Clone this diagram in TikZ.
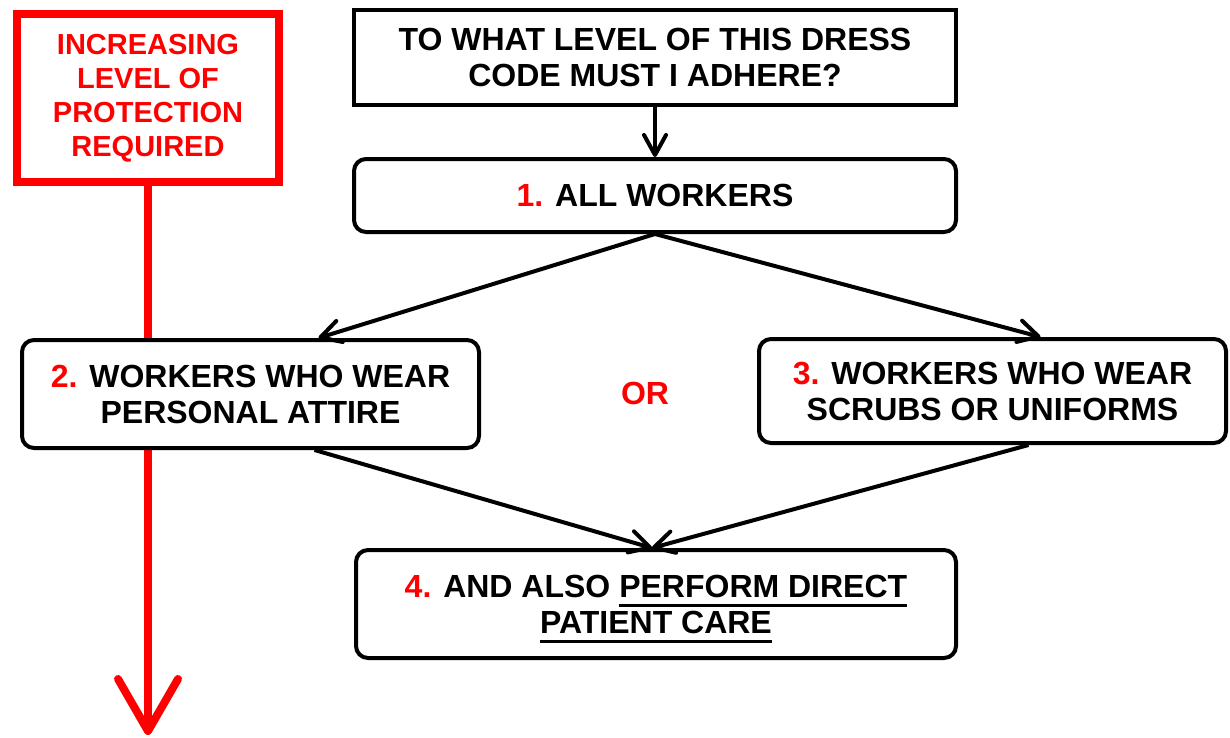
\documentclass[tikz,border=0pt]{standalone}
\usepackage{fontspec}
\setmainfont{Liberation Sans}
\usetikzlibrary{arrows.meta,calc}
\definecolor{alert}{HTML}{FF0000}
\definecolor{ink}{HTML}{000000}
\newcommand{\stepno}[1]{\textcolor{alert}{#1}}
\newcommand{\thickul}[1]{\setbox0\hbox{#1}\rlap{\smash{\rule[-5pt]{\wd0}{1.5pt}}}\box0}
\tikzset{
  basebox/.style={draw=ink,line width=2pt,fill=white,align=center,inner sep=0pt,text=ink,font=\fontsize{16}{18}\selectfont\bfseries},
  roundbox/.style={basebox,rounded corners=6pt},
  alertbox/.style={basebox,draw=alert,line width=4pt,text=alert,font=\fontsize{14.5}{17}\selectfont\bfseries},
  arrow/.style={-{Straight Barb[length=10pt,width=11pt,round]},line width=2pt,draw=ink},
  alertarrow/.style={-{Straight Barb[length=26pt,width=30pt,round]},line width=4pt,draw=alert}
}
\begin{document}
\begin{tikzpicture}[x=0.5pt,y=-0.5pt]
    \useasboundingbox (0,0) rectangle (1230,738);
    % protection scale on the left
    \coordinate (protend) at (148,735);
    \node[alertbox,minimum width=131pt,minimum height=84pt] (prot) at (148,98) {INCREASING\\LEVEL OF\\PROTECTION\\REQUIRED};
    \draw[alertarrow] (prot.south) -- (protend);
    % flow
    \node[basebox,minimum width=301pt,minimum height=47.5pt] (question) at (655,57.5) {TO WHAT LEVEL OF THIS DRESS\\CODE MUST I ADHERE?};
    \node[roundbox,minimum width=301pt,minimum height=36.5pt] (all) at (655,195.5) {\stepno{1.} ALL WORKERS};
    \node[roundbox,minimum width=228.5pt,minimum height=54pt] (attire) at (250.5,394) {\stepno{2.} WORKERS WHO WEAR\\PERSONAL ATTIRE};
    \node[roundbox,minimum width=233.5pt,minimum height=52pt] (scrubs) at (992.5,391) {\stepno{3.} WORKERS WHO WEAR\\SCRUBS OR UNIFORMS};
    \node[roundbox,minimum width=300pt,minimum height=54pt] (care) at (656,604) {\stepno{4.} AND ALSO \thickul{PERFORM DIRECT}\\\thickul{PATIENT CARE}};
    \node[text=alert,font=\fontsize{16}{18}\selectfont\bfseries] (or) at (645,393) {OR};
    \draw[arrow] (question.south) -- (all.north);
    \foreach \b/\s in {attire/34pt,scrubs/24pt}
      \draw[arrow] (all.south) -- ([xshift=\s]\b.north);
    \foreach \a/\s in {attire/32pt,scrubs/18pt}
      \draw[arrow] ([xshift=\s]\a.south) -- ([xshift=-2pt]care.north);
\end{tikzpicture}
\end{document}
